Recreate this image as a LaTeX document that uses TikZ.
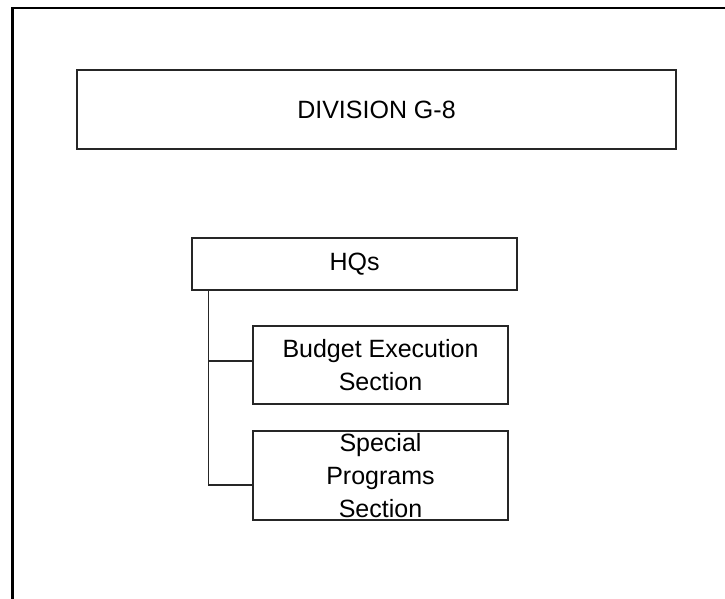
\documentclass[tikz,border=0pt]{standalone}
\usepackage{fontspec}
\setmainfont{Liberation Sans}
\usetikzlibrary{calc}
\tikzset{
  orgbox/.style={draw=black!85, line width=1.1pt, rectangle, inner sep=0pt, align=center,
    font=\fontsize{25}{33}\selectfont},
  conn/.style={draw=black!85, line width=1.1pt},
  frameline/.style={draw=black, line width=2.6pt}
}
\begin{document}
\begin{tikzpicture}[x=1pt,y=-1pt]
\useasboundingbox (0,0) rectangle (725,598);
\draw[frameline] (12.5,599) -- (12.5,8) -- (726,8);
\node[orgbox, minimum width=599pt, minimum height=79pt] (div) at (376.5,109.5) {DIVISION G-8};
\node[orgbox, minimum width=325pt, minimum height=52pt] (hq) at (354.5,264) {HQs};
\node[orgbox, minimum width=255pt, minimum height=78pt] (budget) at (380.5,365) {Budget Execution\\Section};
\node[orgbox, minimum width=255pt, minimum height=89pt] (special) at (380.5,475.5) {Special\\Programs\\Section};
\coordinate (trunk) at ($(hq.south west)+(17,0)$);
\draw[conn] (trunk) |- ($(budget.west)+(0,-4)$);
\draw[conn] (trunk) |- ($(special.west)+(0,9.5)$);
\end{tikzpicture}
\end{document}
